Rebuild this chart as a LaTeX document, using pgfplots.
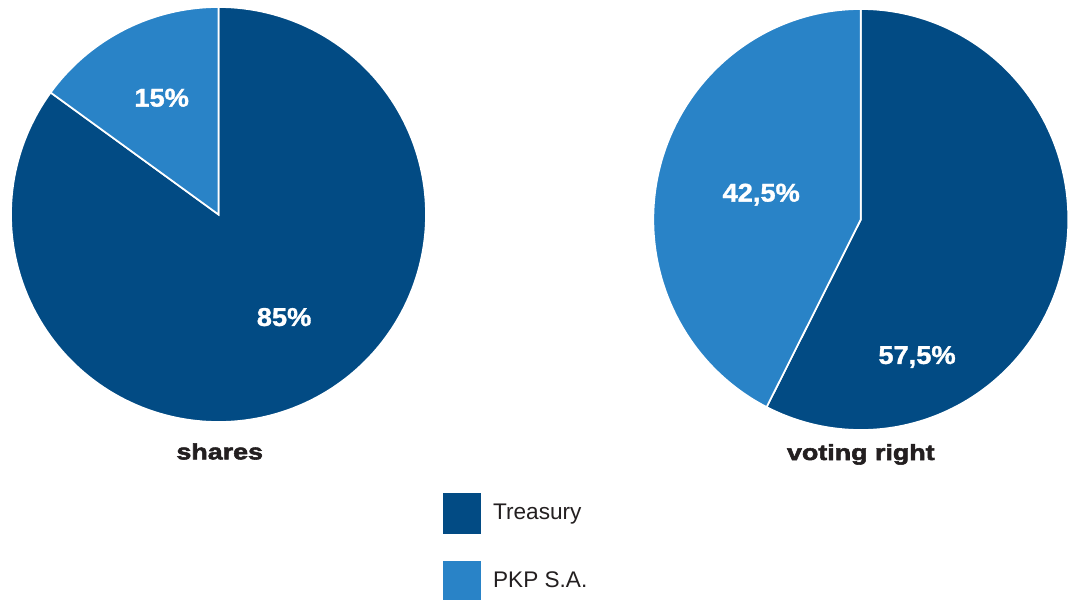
\documentclass[border=0pt]{standalone}
\usepackage{pgfplots}
\pgfplotsset{compat=1.18}
\usepackage{fontspec}
\setmainfont{Liberation Sans}
\newfontfamily\valfont[FakeBold=1.2,FakeStretch=1.06]{Liberation Sans Bold}
\newfontfamily\ttlfont[FakeBold=2.5,FakeStretch=1.22]{Liberation Sans Bold}

\definecolor{treasury}{HTML}{024B84}
\definecolor{pkp}{HTML}{2983C7}
\definecolor{ink}{HTML}{231F20}

% ownership, in percent
\def\sharesTreasury{85}
\def\sharesPKP{15}
\def\votesTreasury{57.5}
\def\votesPKP{42.5}

\pgfplotsset{
  pie/.style={hide axis, scale only axis, clip=false, anchor=center,
    xmin=-1, xmax=1, ymin=-1, ymax=1},
  wedge/.style={draw=white, line width=0.85pt, samples=180, variable=\t},
}
\tikzset{
  val/.style={font={\valfont\fontsize{12.85}{14}\selectfont}, text=white, anchor=base},
  ttl/.style={font={\ttlfont\fontsize{11}{13}\selectfont}, text=ink, anchor=base},
}

\begin{document}
\begin{tikzpicture}
\useasboundingbox (0,0) rectangle (537pt,-299.5pt);
\pgfmathsetmacro\sA{90+3.6*\sharesPKP}
\pgfmathsetmacro\sB{\sA+3.6*\sharesTreasury}
\pgfmathsetmacro\vA{90+3.6*\votesPKP}
\pgfmathsetmacro\vB{\vA+3.6*\votesTreasury}

\begin{axis}[pie, width=207.5pt, height=207.5pt, at={(109.25pt,-107.25pt)},
  legend style={draw=none, fill=none, at={(1.041,-0.169)}, anchor=north west,
    font={\fontsize{11.3}{13}\selectfont}, text=ink, inner sep=0pt,
    row sep=13.5pt, nodes={inner sep=0pt},
    /tikz/every odd column/.style={column sep=5.85pt}},
  legend cell align=left,
  legend image code/.code={\fill[#1, draw=none] (0pt,-10.25pt) rectangle (19pt,10.25pt);}]
\addplot[wedge, fill=treasury, domain=\sA:\sB] ({cos(\t)},{sin(\t)}) -- (axis cs:0,0) -- cycle;
\addlegendentry{Treasury}
\addplot[wedge, fill=pkp, domain=90:\sA] ({cos(\t)},{sin(\t)}) -- (axis cs:0,0) -- cycle;
\addlegendentry{PKP S.A.}
\node[val] at (axis cs:-0.274,0.52) {15\%};
\node[val] at (axis cs:0.316,-0.537) {85\%};
\node[ttl] at (axis cs:0.006,-1.18) {shares};
\end{axis}

\begin{axis}[pie, width=207.5pt, height=210.5pt, at={(430.4pt,-109.75pt)}]
\addplot[wedge, fill=treasury, domain=\vA:\vB] ({cos(\t)},{sin(\t)}) -- (axis cs:0,0) -- cycle;
\addplot[wedge, fill=pkp, domain=90:\vA] ({cos(\t)},{sin(\t)}) -- (axis cs:0,0) -- cycle;
\node[val] at (axis cs:-0.480,0.085) {42,5\%};
\node[val] at (axis cs:0.271,-0.686) {57,5\%};
\node[ttl] at (axis cs:0,-1.1425) {voting right};
\end{axis}
\end{tikzpicture}
\end{document}
